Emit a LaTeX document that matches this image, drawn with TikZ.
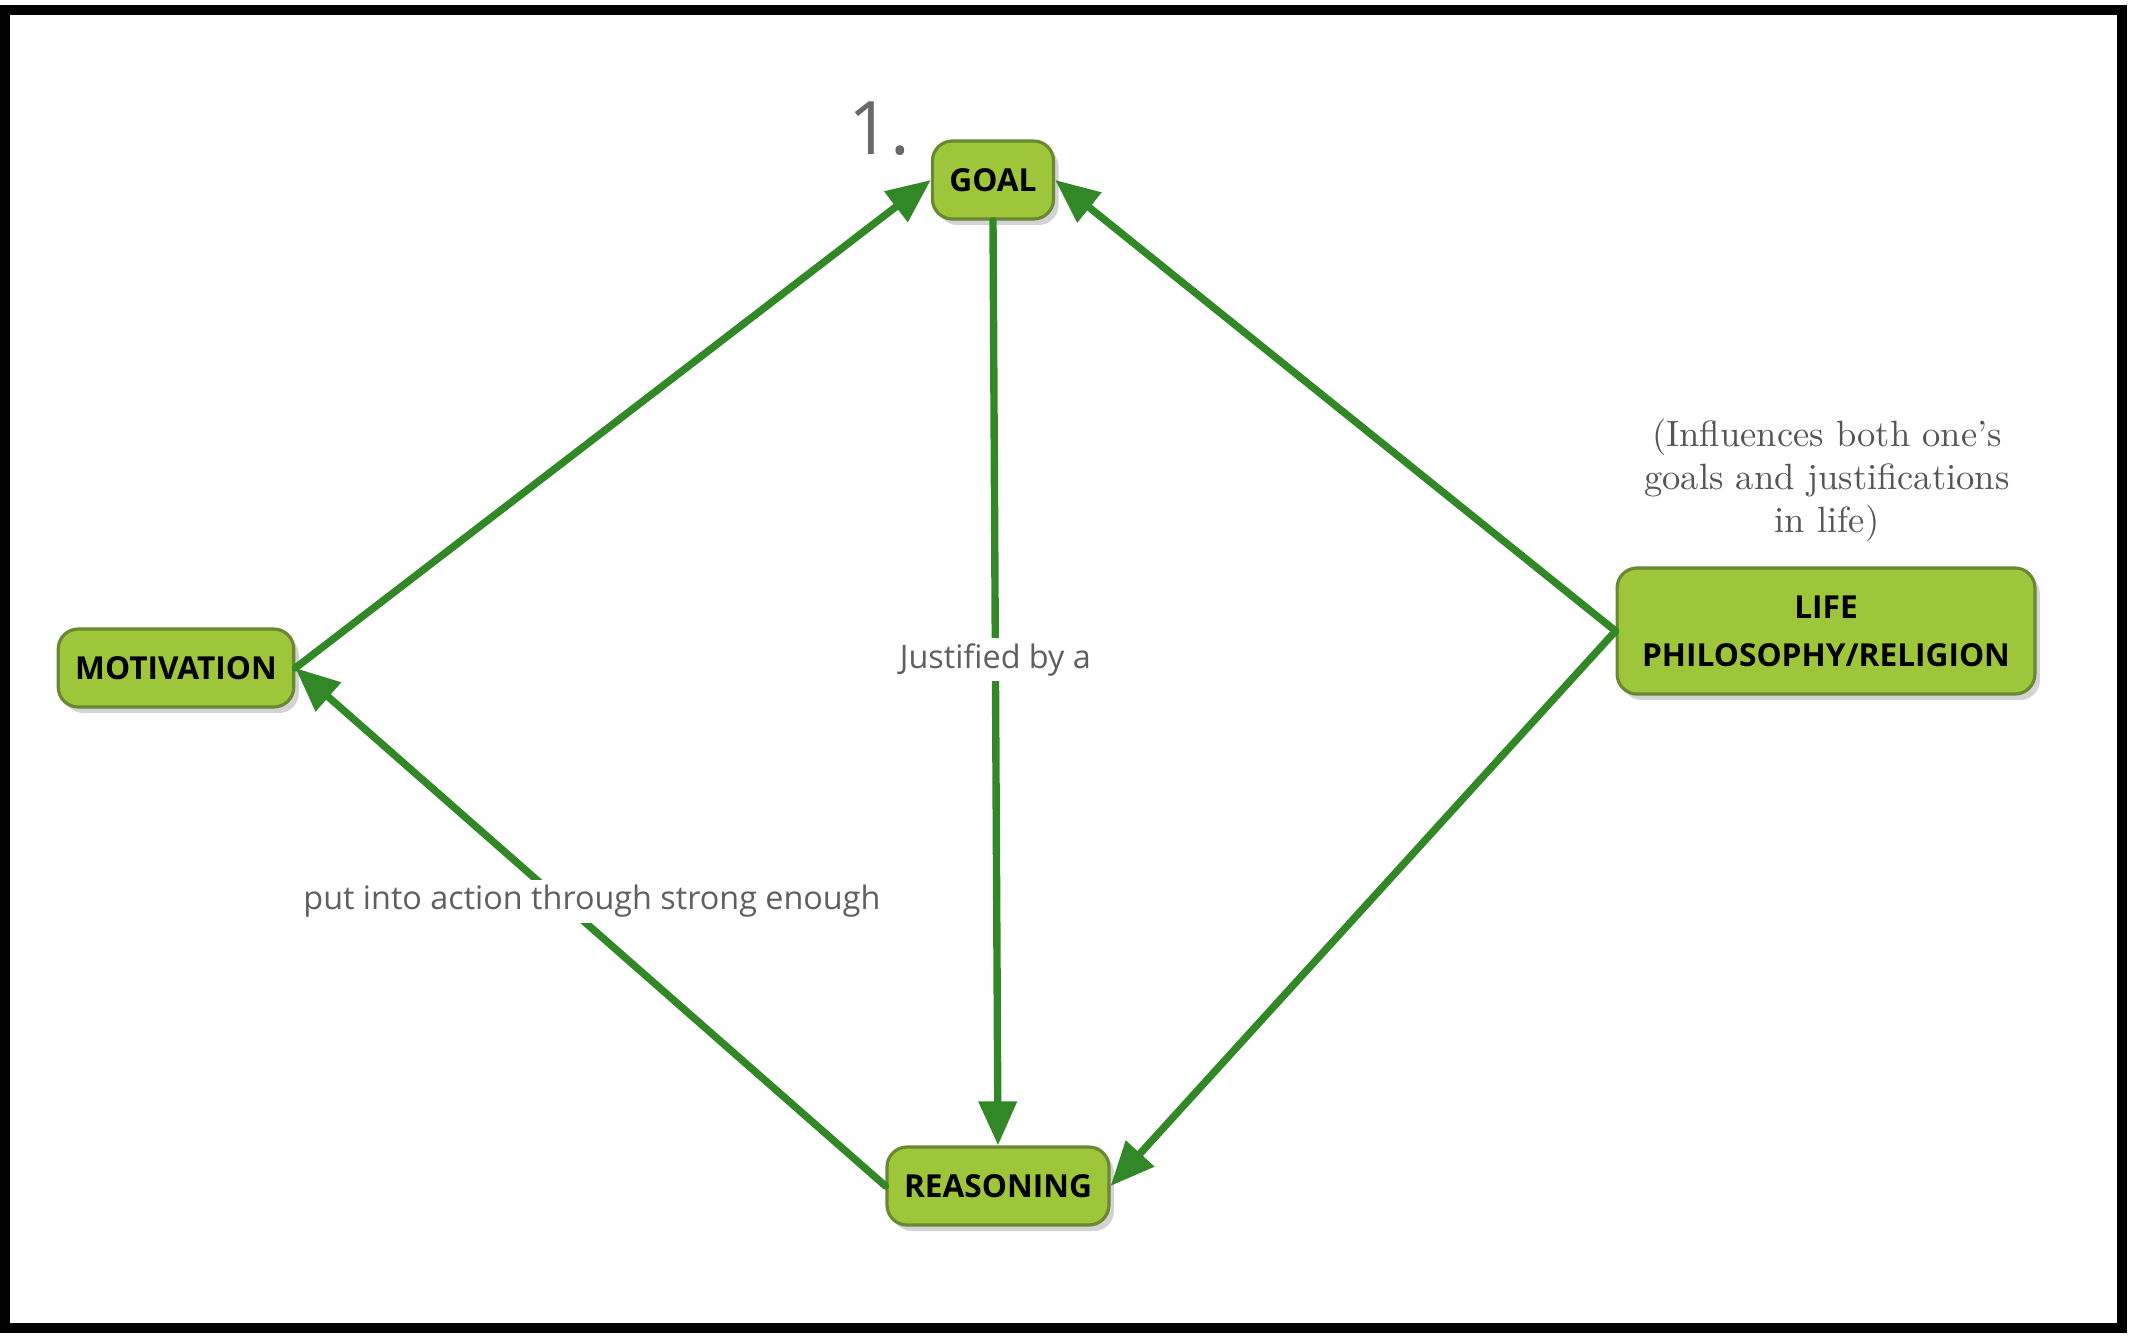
\documentclass[tikz,border=0pt]{standalone}
\usepackage{fontspec}
\newfontfamily\opensans{Open Sans}
\usetikzlibrary{arrows.meta,shadows}
\begin{document}
\begin{tikzpicture}[x=0.01cm, y=-0.01cm, line cap=round, line join=round,
  concept/.style={draw=nodeedge, fill=nodefill, line width=0.9pt, rounded corners=0.2cm,
    font=\opensans\bfseries\fontsize{9}{13.6}\selectfont, text=black, inner xsep=0.17cm,
    minimum height=0.78cm, align=center,
    drop shadow={shadow xshift=0.05cm, shadow yshift=-0.06cm, opacity=0.35}},
  link/.style={draw=linkgreen, line width=2.1pt, -{Triangle[length=0.44cm, width=0.37cm]}},
  linklabel/.style={font=\opensans\fontsize{9.2}{11}\selectfont, text=labelgray, fill=white, inner sep=1.5pt}]
  \definecolor{nodefill}{RGB}{158,198,58}
  \definecolor{nodeedge}{RGB}{104,136,50}
  \definecolor{linkgreen}{RGB}{50,136,38}
  \definecolor{labelgray}{RGB}{95,95,95}
  \definecolor{numgray}{RGB}{105,105,105}
  \definecolor{notegray}{RGB}{85,85,85}
  \useasboundingbox (0,0) rectangle (2130,1339);
  \draw[line width=0.1cm, line cap=butt, line join=miter] (5,10) rectangle (2122,1328);
  \node[concept] (goal) at (993,180) {GOAL};
  \node[concept] (motivation) at (176,668) {MOTIVATION};
  \node[concept] (reasoning) at (998,1186) {REASONING};
  \node[concept, inner xsep=0.25cm, minimum height=1.26cm] (life) at (1826,631) {LIFE\\PHILOSOPHY/RELIGION};
  \node[font=\opensans\fontsize{21}{21}\selectfont, text=numgray] (num) at (879,129) {1.};
  \node[text=notegray, align=center, font=\fontsize{10.4}{12.2}\selectfont] (note) at (1827,480)
    {(Influences both one's\\goals and justifications\\in life)};
  \draw[link] (motivation.east) -- (goal.west);
  \draw[link] (goal.south) -- node[linklabel, pos=0.475] (justified) {Justified by a} (reasoning.north);
  \draw[link] (life.west) -- (goal.east);
  \draw[link] (life.west) -- (reasoning.east);
  \draw[link] (reasoning.west) -- node[linklabel, pos=0.55, xshift=0.31cm] (action)
    {put into action through strong enough} (motivation.east);
\end{tikzpicture}
\end{document}
